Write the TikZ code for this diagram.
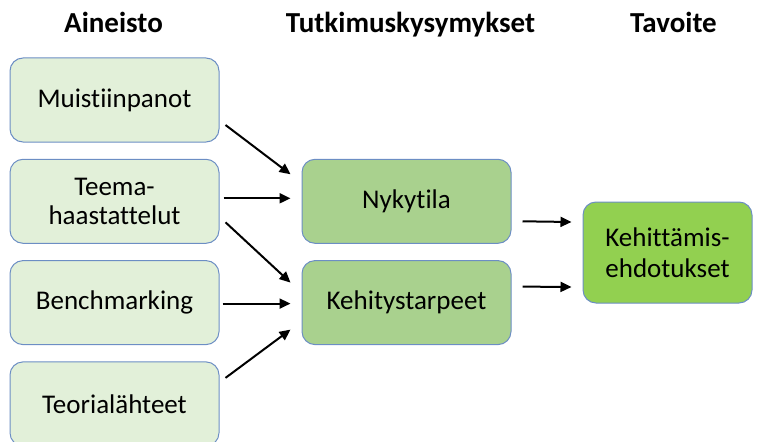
\documentclass[tikz,border=0pt]{standalone}
\usepackage{fontspec}
\setmainfont{Carlito}[Ligatures=NoCommon]
\usetikzlibrary{positioning, arrows.meta}

\definecolor{boxline}{HTML}{6C8EC4}
\definecolor{paleGreen}{HTML}{E2F0D9}
\definecolor{midGreen}{HTML}{A9D18E}
\definecolor{brightGreen}{HTML}{92D050}

\begin{document}
\begin{tikzpicture}[x=1pt, y=-1pt, node distance=101.3pt, on grid,
  box/.style={draw=boxline, line width=1pt, rounded corners=13pt, minimum width=209pt, minimum height=84pt, align=center, font=\fontsize{27}{29}\selectfont},
  source/.style={box, fill=paleGreen},
  question/.style={box, fill=midGreen},
  goal/.style={box, fill=brightGreen, minimum width=169pt, minimum height=101pt, font=\fontsize{27}{31}\selectfont},
  head/.style={anchor=base, font=\fontsize{29}{32}\selectfont\bfseries},
  link/.style={-{Triangle[length=11pt, width=10pt]}, line width=2pt}]
  \useasboundingbox (0,0) rectangle (759,441);

  \node[head] (aineisto) at (113.5,33) {Aineisto};
  \node[head] (kysymys) at (410.5,33) {Tutkimuskysymykset};
  \node[head] (tavoite) at (673.5,33) {Tavoite};

  \node[source] (muist) at (114.5,100) {Muistiinpanot};
  \node[source] (teema) [below=of muist] {Teema-\\haastattelut};
  \node[source] (bench) [below=of teema] {Benchmarking};
  \node[source] (teoria) [below=of bench] {Teorialähteet};
  \node[question] (nyky) [right=292pt of teema] {Nykytila};
  \node[question] (kehi) [right=292pt of bench] {Kehitystarpeet};
  \node[goal] (tavo) at (667.5,252.5) {Kehittämis-\\ehdotukset};

  \path[link]
  ([xshift=6pt, yshift=-25pt]muist.east) edge ([xshift=-11pt, yshift=27pt]nyky.west)
  ([xshift=4pt, yshift=3pt]teema.east) edge ([xshift=-11pt, yshift=3pt]nyky.west)
  ([xshift=6pt, yshift=-21pt]teema.east) edge ([xshift=-11pt, yshift=20pt]kehi.west)
  ([xshift=3pt, yshift=-1pt]bench.east) edge ([xshift=-11pt, yshift=-1pt]kehi.west)
  ([xshift=6pt, yshift=26pt]teoria.east) edge ([xshift=-11pt, yshift=-27pt]kehi.west)
  ([xshift=11pt, yshift=-20pt]nyky.east) edge ([xshift=-11pt, yshift=30.5pt]tavo.west)
  ([xshift=11pt, yshift=16pt]kehi.east) edge ([xshift=-11pt, yshift=-34.5pt]tavo.west);
\end{tikzpicture}
\end{document}
